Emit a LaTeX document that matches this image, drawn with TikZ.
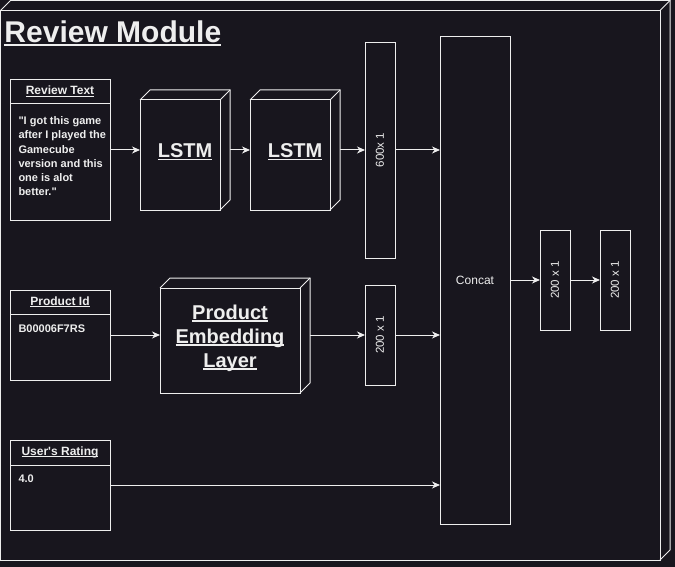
\documentclass[tikz,border=0pt]{standalone}
\usepackage{fontspec}
\setmainfont{Liberation Sans}[Ligatures=TeXOff]
\usetikzlibrary{arrows.meta,calc}
\definecolor{bg}{HTML}{18161E}
\definecolor{fg}{HTML}{EEEEEE}
\newsavebox\ulbox
\newcommand\myul[1]{\sbox\ulbox{#1}\leavevmode\rlap{\rule[-0.11em]{\wd\ulbox}{0.065em}}\usebox\ulbox}
\newcommand\cubelines[1]{%
  \draw[fg] ($(#1.north west)+(0,10)$) rectangle ($(#1.south east)+(-10,0)$);
  \draw[fg,line join=miter] ($(#1.north west)+(0,10)$) -- ($(#1.north west)+(10,0)$) -- (#1.north east)
     -- ($(#1.south east)+(0,-10)$) -- ($(#1.south east)+(-10,0)$);
  \draw[fg] ($(#1.north east)+(-10,10)$) -- (#1.north east);}
\begin{document}
\begin{tikzpicture}[x=1pt,y=-1pt,line width=1pt,
  every node/.style={text=fg},
  shape3d/.style={inner sep=0,outer sep=0,anchor=north west},
  plainbox/.style={draw=fg,inner sep=0,outer sep=0,anchor=north west},
  tablebox/.style={draw=fg,inner sep=0,outer sep=0,anchor=north west,minimum width=100pt},
  headtxt/.style={font=\fontsize{12}{14}\selectfont\bfseries,anchor=base,inner sep=0},
  bodytxt/.style={font=\fontsize{11}{14.3}\selectfont\bfseries,anchor=north west,inner sep=0,align=left},
  bigtxt/.style={font=\fontsize{20}{24}\selectfont\bfseries,inner sep=0,align=center},
  dimtxt/.style={font=\fontsize{11.5}{14}\selectfont,rotate=90,inner sep=0},
  arr/.style={draw=fg,-{Stealth[length=8pt,width=7pt,inset=2.5pt]}}]
\useasboundingbox (0,0) rectangle (675,567);
\fill[bg] (0,0) rectangle (675,567);

% outer module cube
\node[shape3d,minimum width=669.5pt,minimum height=559.5pt] (mod) at (0.5,0.5) {};
\cubelines{mod}
\node[font=\fontsize{30}{34}\selectfont\bfseries,anchor=base west,inner sep=0] (title) at (4,43) {\myul{Review Module}};

% review text table
\node[tablebox,minimum height=140pt] (rt) at (10,80) {};
\draw[fg] ($(rt.north west)+(0,24)$) -- ($(rt.north east)+(0,24)$);
\node[headtxt] (rth) at (60,95) {\myul{Review Text}};
\node[bodytxt] (rtb) at (18,116) {"I got this game\\after I played the\\Gamecube\\version and this\\one is alot\\better."};

% LSTMs
\node[shape3d,minimum width=90pt,minimum height=120pt] (l1) at (140,90) {};
\cubelines{l1}
\node[bigtxt,anchor=base] (l1t) at (185,158) {\myul{LSTM}};
\node[shape3d,minimum width=90pt,minimum height=120pt] (l2) at (250,90) {};
\cubelines{l2}
\node[bigtxt,anchor=base] (l2t) at (295,158) {\myul{LSTM}};

% 600x1
\node[plainbox,minimum width=30pt,minimum height=215pt] (d600) at (365,43) {};
\node[dimtxt] (d600t) at (380,150) {600x 1};

% product id table
\node[tablebox,minimum height=90pt] (pid) at (10,290) {};
\draw[fg] ($(pid.north west)+(0,24)$) -- ($(pid.north east)+(0,24)$);
\node[headtxt] (pidh) at (60,305) {\myul{Product Id}};
\node[bodytxt,anchor=base west] (pidb) at (18,332.7) {B00006F7RS};

% product embedding
\node[shape3d,minimum width=150pt,minimum height=115pt] (emb) at (160,278) {};
\cubelines{emb}
\node[bigtxt,anchor=north] (embt) at (230,304.5) {\myul{Product}\\\myul{Embedding}\\\myul{Layer}};

% 200x1 (product)
\node[plainbox,minimum width=30pt,minimum height=100pt] (d200) at (365,285) {};
\node[dimtxt] (d200t) at (380,335) {200 x 1};

% user's rating table
\node[tablebox,minimum height=90pt] (ur) at (10,440) {};
\draw[fg] ($(ur.north west)+(0,25)$) -- ($(ur.north east)+(0,25)$);
\node[headtxt] (urh) at (60,455) {\myul{User's Rating}};
\node[bodytxt,anchor=base west] (urb) at (18,482.7) {4.0};

% concat
\node[plainbox,minimum width=70pt,minimum height=487pt] (concat) at (440,37) {};
\node[font=\fontsize{12}{14}\selectfont,inner sep=0] (concatt) at (475,280) {Concat};

% outputs
\node[plainbox,minimum width=30pt,minimum height=100pt] (o1) at (540,230) {};
\node[dimtxt] (o1t) at (555,280) {200 x 1};
\node[plainbox,minimum width=30pt,minimum height=100pt] (o2) at (600,230) {};
\node[dimtxt] (o2t) at (615,280) {200 x 1};

% connectors
\draw[arr] (rt.east) -- (rt.east -| l1.west);
\draw[arr] (l1.east) -- (l1.east -| l2.west);
\draw[arr] (l2.east) -- (l2.east -| d600.west);
\draw[arr] (d600.east |- l2.east) -- (l2.east -| concat.west);
\draw[arr] (pid.east) -- (pid.east -| emb.west);
\draw[arr] (emb.east |- d200.west) -- (d200.west);
\draw[arr] (d200.east) -- (d200.east -| concat.west);
\draw[arr] (ur.east) -- (ur.east -| concat.west);
\draw[arr] (o1.west -| concat.east) -- (o1.west);
\draw[arr] (o1.east) -- (o2.west);
\end{tikzpicture}
\end{document}
